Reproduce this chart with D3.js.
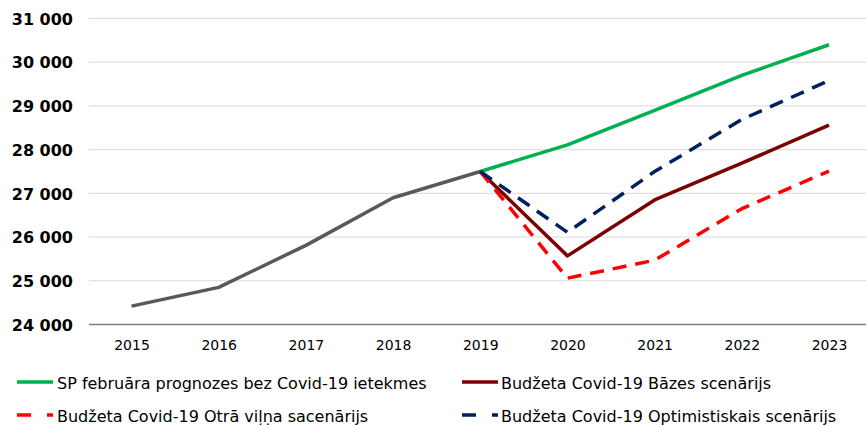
<!DOCTYPE html>
<html>
<head>
<meta charset="utf-8">
<script src="https://cdn.jsdelivr.net/npm/d3@7"></script>
<style>
  html, body { margin: 0; padding: 0; background: #fff; }
  svg { display: block; }
</style>
</head>
<body>
<svg id="chart" width="866" height="425"></svg>
<script>
const years = [2015, 2016, 2017, 2018, 2019, 2020, 2021, 2022, 2023];
const yTicks = [24000, 25000, 26000, 27000, 28000, 29000, 30000, 31000];

const historyYears = [2015, 2016, 2017, 2018, 2019];
const historyValues = [24420, 24850, 25810, 26900, 27500];

const scenarioYears = [2019, 2020, 2021, 2022, 2023];
const spFebValues = [27500, 28110, 28900, 29700, 30400];
const baseValues = [27500, 25570, 26850, 27690, 28560];
const secondWaveValues = [27500, 25060, 25470, 26650, 27510];
const optimisticValues = [27500, 26110, 27500, 28690, 29580];

const seriesNames = [
  "SP februāra prognozes bez Covid-19 ietekmes",
  "Budžeta Covid-19 Bāzes scenārijs",
  "Budžeta Covid-19 Otrā viļņa sacenārijs",
  "Budžeta Covid-19 Optimistiskais scenārijs"
];

const svg = d3.select("#chart");
const x = d3.scalePoint().domain(years).range([131.5, 829]);
const y = d3.scaleLinear().domain([24000, 31000]).range([324.5, 18.5]);

const gridLeft = 89, gridRight = 866;

// gridlines
svg.append("g").selectAll("line")
  .data(yTicks.filter(d => d !== 24000))
  .join("line")
  .attr("x1", gridLeft).attr("x2", gridRight)
  .attr("y1", d => y(d)).attr("y2", d => y(d))
  .attr("stroke", "#d9d9d9").attr("stroke-width", 1);

// y axis labels
const yAxis = d3.axisLeft(y).tickValues(yTicks).tickSize(0).tickPadding(0)
  .tickFormat(d => d3.format(",")(d).replace(",", " "));
const gy = svg.append("g").attr("transform", "translate(73,0)").call(yAxis);
gy.select(".domain").remove();
gy.selectAll("text")
  .attr("font-family", "DejaVu Sans, Verdana, sans-serif")
  .attr("font-weight", "bold")
  .attr("font-size", 16)
  .attr("fill", "#000")
  .attr("dy", "0.36em");

// x axis
const xAxis = d3.axisBottom(x).tickSize(0).tickPadding(0);
const gx = svg.append("g").attr("transform", `translate(0,${y(24000)})`).call(xAxis);
gx.select(".domain").remove();
gx.selectAll("text")
  .attr("font-family", "DejaVu Sans, sans-serif")
  .attr("font-size", 14)
  .attr("fill", "#000")
  .attr("y", 25.5)
  .attr("dy", 0);
svg.append("line")
  .attr("x1", gridLeft).attr("x2", gridRight)
  .attr("y1", y(24000)).attr("y2", y(24000))
  .attr("stroke", "#7f7f7f").attr("stroke-width", 1.5);

const line = d3.line().x(d => x(d[0])).y(d => y(d[1]));
const zip = (xs, vs) => xs.map((v, i) => [v, vs[i]]);

const series = [
  { data: zip(historyYears, historyValues), color: "#595959", dash: null },
  { data: zip(scenarioYears, spFebValues), color: "#00b050", dash: null },
  { data: zip(scenarioYears, baseValues), color: "#7b0000", dash: null },
  { data: zip(scenarioYears, secondWaveValues), color: "#ff0000", dash: "14,9" },
  { data: zip(scenarioYears, optimisticValues), color: "#002060", dash: "14,9" }
];

svg.append("g").selectAll("path")
  .data(series)
  .join("path")
  .attr("d", d => line(d.data))
  .attr("fill", "none")
  .attr("stroke", d => d.color)
  .attr("stroke-width", 3.5)
  .attr("stroke-linejoin", "round")
  .attr("stroke-dasharray", d => d.dash);

// legend
const legendItems = [
  { name: seriesNames[0], color: "#00b050", dash: null, lx: 17, ly: 382, tx: 57 },
  { name: seriesNames[1], color: "#7b0000", dash: null, lx: 462, ly: 382, tx: 501 },
  { name: seriesNames[2], color: "#ff0000", dash: "14,16", lx: 17, ly: 415, tx: 57 },
  { name: seriesNames[3], color: "#002060", dash: "14,16", lx: 462, ly: 415, tx: 501 }
];
const lg = svg.append("g").selectAll("g").data(legendItems).join("g");
lg.append("line")
  .attr("x1", d => d.lx).attr("x2", d => d.lx + 36)
  .attr("y1", d => d.ly).attr("y2", d => d.ly)
  .attr("stroke", d => d.color).attr("stroke-width", 3.5)
  .attr("stroke-dasharray", d => d.dash);
lg.append("text")
  .attr("x", d => d.tx).attr("y", d => d.ly + 7)
  .attr("font-family", "DejaVu Sans, Verdana, sans-serif")
  .attr("font-size", 16)
  .attr("fill", "#000")
  .text(d => d.name);
</script>
</body>
</html>
